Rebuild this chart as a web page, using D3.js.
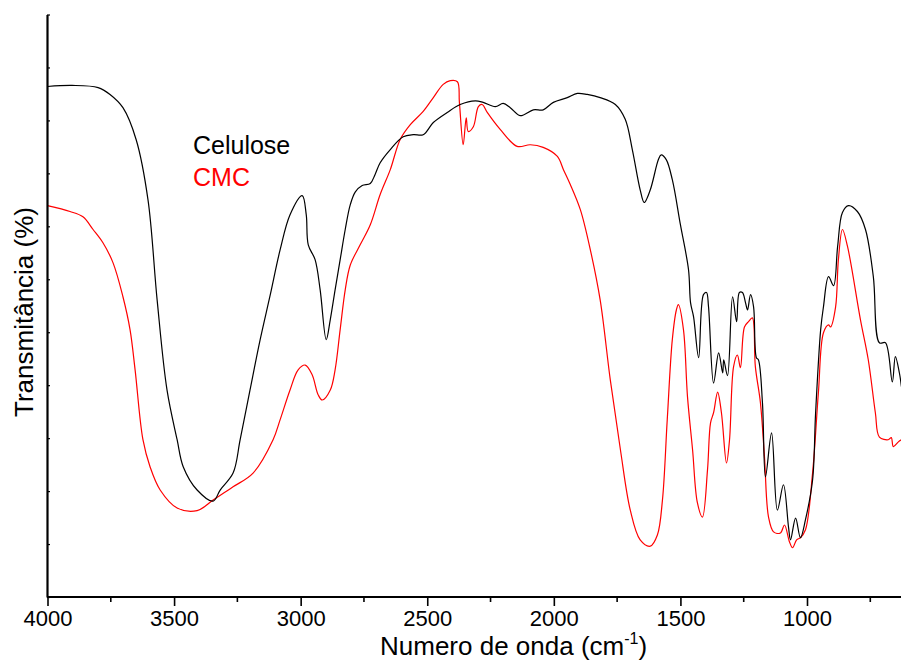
<!DOCTYPE html>
<html><head><meta charset="utf-8">
<script src="https://cdn.jsdelivr.net/npm/d3@7"></script>
<style>body{margin:0;background:#fff}svg{display:block}text{font-family:"Liberation Sans",Arial,sans-serif}</style>
</head><body><svg id="c" width="901" height="662"></svg>
<script>
// Wavenumber (cm-1) and transmittance (arbitrary %)
const celuloseWn = [4000,3903,3800,3753,3702,3650,3603,3567,3528,3488,3464,3409,3346,3318,3267,3239,3200,3160,3120,3081,3042,2994,2978,2970,2943,2923,2899,2883,2864,2844,2824,2804,2784,2757,2725,2706,2686,2646,2595,2555,2516,2476,2421,2370,2310,2279,2231,2200,2172,2133,2081,2042,2002,1947,1907,1868,1817,1757,1718,1690,1659,1643,1619,1587,1576,1556,1532,1500,1468,1460,1448,1428,1409,1397,1389,1369,1349,1333,1329,1314,1294,1278,1267,1255,1243,1235,1223,1211,1200,1192,1176,1164,1140,1117,1093,1073,1065,1045,1026,1006,978,966,946,935,915,895,879,860,836,801,769,738,714,690,663,651,635,627];
const celuloseT = [96.4,96.6,96.2,94.9,92.4,86.4,75.0,56.1,39.1,29.7,24.6,20.2,18.1,20.2,23.4,29.7,39.1,48.6,57.1,65.6,72.2,75.8,72.2,66.5,63.7,58.0,48.6,52.4,58.0,63.7,69.4,74.1,76.5,77.7,78.1,79.8,82.0,84.5,86.9,87.3,87.3,89.6,91.5,93.0,93.7,93.4,92.6,93.2,92.4,90.9,92.0,92.0,93.4,94.3,95.1,94.9,94.3,93.0,90.2,84.5,76.9,74.5,76.9,82.6,83.5,82.6,78.8,70.3,61.8,55.6,52.9,45.2,57.1,57.5,54.8,40.4,46.1,42.3,44.8,41.8,56.7,52.0,57.5,57.5,55.6,54.2,57.1,54.8,45.2,44.8,36.7,22.7,31.0,16.4,21.2,13.2,10.8,14.9,11.2,14.6,22.1,34.8,50.5,54.8,60.5,58.8,66.2,72.6,73.9,72.8,69.4,60.5,48.0,48.0,40.6,45.4,42.3,39.7];
const cmcWn = [4000,3911,3860,3820,3781,3741,3702,3674,3654,3623,3595,3555,3488,3409,3346,3267,3188,3109,3081,3042,3010,2982,2955,2931,2915,2883,2864,2844,2824,2804,2765,2725,2686,2646,2607,2567,2516,2476,2437,2409,2381,2373,2358,2346,2338,2318,2298,2283,2263,2212,2145,2093,2042,1986,1962,1935,1895,1856,1817,1777,1737,1698,1659,1619,1591,1571,1552,1532,1516,1508,1488,1472,1452,1433,1413,1393,1381,1369,1353,1338,1318,1306,1290,1275,1263,1247,1231,1216,1204,1184,1168,1152,1132,1105,1089,1069,1057,1041,1026,1006,978,955,935,915,907,887,876,860,840,789,758,730,714,679,667,659,639,627];
const cmcT = [73.9,72.8,71.8,69.4,66.9,63.1,56.7,50.5,42.9,29.7,24.6,20.2,16.8,16.3,18.3,20.8,23.4,29.7,33.5,39.1,42.9,43.8,42.0,38.2,37.2,39.1,42.9,50.5,58.0,62.7,66.5,70.3,76.0,80.7,86.4,89.2,91.7,94.3,96.8,97.5,97.3,93.4,85.4,90.5,87.9,88.8,92.6,93.0,91.5,88.3,85.1,85.4,84.9,83.2,80.7,77.9,73.1,65.6,56.1,41.0,27.8,16.4,10.8,9.6,11.7,18.3,33.5,48.6,54.2,55.2,50.5,37.8,27.8,17.8,15.1,24.0,32.9,34.8,38.7,34.8,25.3,29.7,43.5,45.7,43.3,51.0,52.0,52.7,43.5,36.7,26.5,15.1,12.3,12.1,13.6,10.4,9.3,10.8,11.2,12.7,23.4,38.6,49.9,51.4,51.0,54.8,63.7,69.4,66.2,52.4,44.8,34.8,30.2,29.7,30.1,28.4,29.3,29.7];
const xMajorTicks = [4000,3500,3000,2500,2000,1500,1000];
const xMinorTicks = [3750,3250,2750,2250,1750,1250,750];
const yTicks = [0,10,20,30,40,50,60,70,80,90,100,110];
const seriesNames = ["Celulose","CMC"];
const seriesColors = ["#000000","#ff0000"];

const svg = d3.select("#c");
const x = d3.scaleLinear().domain([4000,1000]).range([47.5,807]);
const y = d3.scaleLinear().domain([0,110]).range([597,14.5]);

svg.append("defs").append("clipPath").attr("id","clip")
  .append("rect").attr("x",47).attr("y",0).attr("width",860).attr("height",597);

const line = d3.line().x(d=>x(d[0])).y(d=>y(d[1])).curve(d3.curveCatmullRom.alpha(0.5));
const series = [d3.zip(celuloseWn, celuloseT), d3.zip(cmcWn, cmcT)];
// draw CMC first then cellulose on top
[1,0].forEach(i=>{
  svg.append("path").attr("clip-path","url(#clip)").datum(series[i])
    .attr("d",line).attr("fill","none").attr("stroke",seriesColors[i]).attr("stroke-width",1.2);
});

// X axis
const gx = svg.append("g").attr("transform","translate(0,597)");
gx.call(d3.axisBottom(x).tickValues(xMajorTicks).tickSize(9).tickSizeOuter(0).tickFormat(d3.format("d")));
gx.select(".domain").attr("d","M47,0H901").attr("stroke","#000").attr("stroke-width",2);
gx.selectAll(".tick line").attr("stroke-width",1.6);
gx.selectAll(".tick text").attr("font-size",22).attr("y",13).attr("dy","0.71em").attr("fill","#000");
const gxm = svg.append("g").attr("transform","translate(0,597)");
gxm.selectAll("line").data(xMinorTicks).join("line")
  .attr("x1",d=>x(d)).attr("x2",d=>x(d)).attr("y1",0).attr("y2",5)
  .attr("stroke","#000").attr("stroke-width",1.6);

// Y axis (ticks inside, no labels)
const gy = svg.append("g").attr("transform","translate(47,0)");
gy.call(d3.axisLeft(y).tickValues(yTicks).tickSize(-3).tickSizeOuter(0).tickFormat(""));
gy.select(".domain").attr("stroke","#000").attr("stroke-width",2.2);
gy.selectAll(".tick line").attr("stroke-width",1.2);

// Axis titles
const xt = svg.append("text").attr("x",380).attr("y",655).attr("font-size",26).attr("fill","#000");
xt.append("tspan").text("Numero de onda (cm");
xt.append("tspan").attr("font-size",16).attr("dy",-11).text("-1");
xt.append("tspan").attr("dy",11).text(")");
svg.append("text").attr("transform","translate(33,312) rotate(-90)").attr("text-anchor","middle")
  .attr("font-size",26).attr("fill","#000").text("Transmitância (%)");

// Legend
svg.append("text").attr("x",193).attr("y",154).attr("font-size",25).attr("fill",seriesColors[0]).text(seriesNames[0]);
svg.append("text").attr("x",193).attr("y",186).attr("font-size",25).attr("fill",seriesColors[1]).text(seriesNames[1]);
</script></body></html>
